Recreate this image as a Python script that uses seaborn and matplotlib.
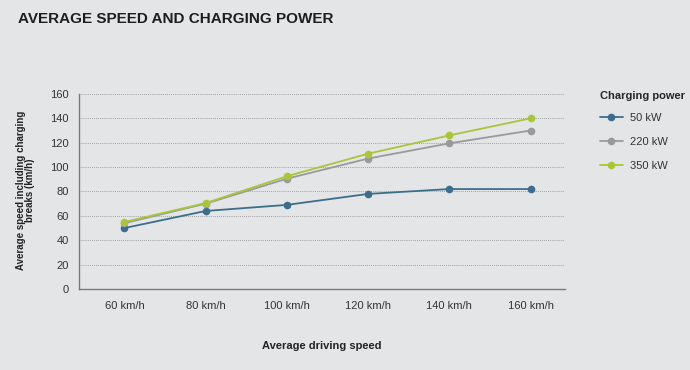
import seaborn as sns
import matplotlib.pyplot as plt
import pandas as pd

# data
speeds = ['60 km/h', '80 km/h', '100 km/h', '120 km/h', '140 km/h', '160 km/h']
kw50 = [50, 64, 69, 78, 82, 82]
kw220 = [54, 70, 90.5, 107, 119.5, 130]
kw350 = [55, 70.5, 92.5, 111, 126, 140]
series_names = ['50 kW', '220 kW', '350 kW']
colors = ['#3c6e8c', '#999a9b', '#a7c63a']

df = pd.DataFrame({'speed': speeds * 3,
                   'avg': kw50 + kw220 + kw350,
                   'power': [n for n in series_names for _ in speeds]})

bg = '#e4e5e6'
sns.set_style('white')
plt.rcParams['font.family'] = ['Liberation Sans', 'DejaVu Sans']

fig = plt.figure(figsize=(6.9, 3.7), dpi=100, facecolor=bg)
ax = fig.add_axes([0.1145, 0.219, 0.705, 0.527])
ax.set_facecolor(bg)

sns.lineplot(data=df, x='speed', y='avg', hue='power', palette=colors,
             marker='o', markersize=5.5, markeredgewidth=0, linewidth=1.3,
             sort=False, ax=ax)

ax.set_ylim(0, 160)
ax.set_yticks(range(0, 161, 20))
ax.set_xlim(-0.56, 5.43)
ax.yaxis.grid(True, linestyle=(0, (1, 1.5)), color='#8a8a8a', linewidth=0.6)
ax.set_axisbelow(True)
for s in ['top', 'right']:
    ax.spines[s].set_visible(False)
for s in ['left', 'bottom']:
    ax.spines[s].set_color('#7a7a7a')
    ax.spines[s].set_linewidth(1.0)
ax.tick_params(axis='both', colors='#7a7a7a', labelcolor='#333333',
               labelsize=8, length=4, width=0.9, direction='out')
ax.tick_params(axis='x', pad=5)

ax.set_xlabel('Average driving speed', fontsize=8, fontweight='bold',
              color='#222222')
ax.xaxis.set_label_coords(0.5, -0.267)
ax.set_ylabel('Average speed including charging\nbreaks (km/h)', fontsize=7,
              fontweight='bold', color='#222222', linespacing=0.95)
ax.yaxis.set_label_coords(-0.09, 0.508)

leg = ax.legend(title='Charging power', loc='upper left',
                bbox_to_anchor=(594 / 690, 1 - 85 / 370),
                bbox_transform=fig.transFigure, borderpad=0,
                frameon=False, fontsize=8, handlelength=2.1,
                handletextpad=0.6, labelspacing=1.25, title_fontsize=8)
leg.get_title().set_fontweight('bold')
leg._legend_box.align = 'left'
leg._legend_box.sep = 9
for t in leg.get_texts():
    t.set_color('#333333')

fig.text(0.026, 0.949, 'AVERAGE SPEED AND CHARGING POWER', fontsize=11,
         fontweight='bold', color='#1e1e1e', va='center')

fig.savefig('out.png', dpi=100, facecolor=bg)
